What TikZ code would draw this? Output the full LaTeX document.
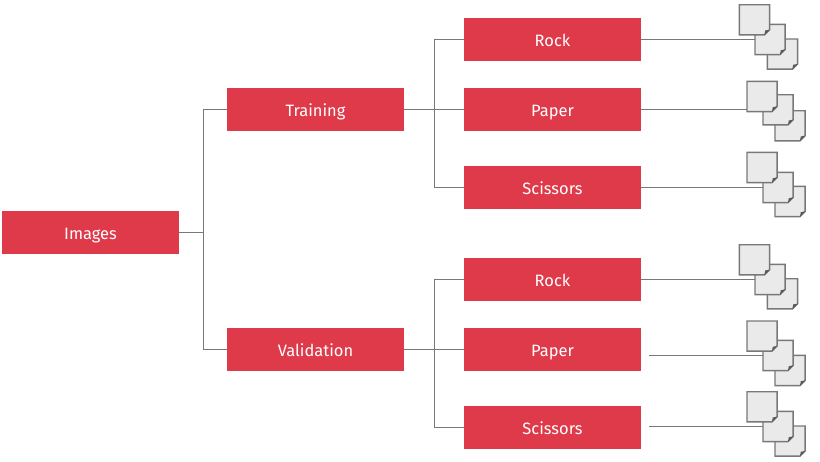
\documentclass[tikz,border=0pt]{standalone}
\usepackage{fontspec}
\setmainfont{Fira Sans}
\usetikzlibrary{calc}
\definecolor{boxred}{RGB}{223, 58, 74}
\definecolor{pagegray}{RGB}{234, 234, 234}
\definecolor{linegray}{RGB}{120, 120, 120}

\begin{document}
\begin{tikzpicture}[
  every node/.style={font=\fontsize{11.7pt}{14pt}\selectfont},
  redbox/.style={rectangle, fill=boxred, text=white, minimum width=4.425cm,
             minimum height=1.075cm, inner sep=0pt, text height=11.4pt, text depth=1.6pt},
  docpage/.style={rectangle, minimum size=0.74cm, inner sep=0pt},
  link/.style={draw=linegray, line width=0.9pt}
]
\useasboundingbox (0,0) rectangle (20.5,-11.55);

% Red boxes, three columns
\node[redbox] (images) at (2.2625,-5.8125) {Images};
\node[redbox] (training) at (7.8875,-2.7375) {Training};
\node[redbox] (validation) at (7.8875,-8.7375) {Validation};
\node[redbox] (rockT) at (13.8125,-0.9875) {Rock};
\node[redbox] (paperT) at (13.8125,-2.7375) {Paper};
\node[redbox] (scissorsT) at (13.8125,-4.6875) {Scissors};
\node[redbox] (rockV) at (13.8125,-6.9875) {Rock};
\node[redbox] (paperV) at (13.8125,-8.7375) {Paper};
\node[redbox] (scissorsV) at (13.8125,-10.6875) {Scissors};

% Branch points and the two lines that start away from their box
\coordinate (splitI) at (5.0875,-5.8125);
\coordinate (splitT) at (10.8625,-2.7375);
\coordinate (splitV) at (10.8625,-8.7375);
\coordinate (startP) at (16.225,-8.8875);
\coordinate (startS) at (16.225,-10.6625);

% Tree lines
\draw[link] (images.east) -- (splitI);
\draw[link] (training.west) -| (splitI) |- (validation.west);
\draw[link] (training.east) -- (paperT.west);
\draw[link] (validation.east) -- (paperV.west);
\foreach \kid in {rockT,scissorsT}{
  \draw[link] (splitT) |- (\kid.west);
}
\foreach \kid in {rockV,scissorsV}{
  \draw[link] (splitV) |- (\kid.west);
}

% Document stacks, back page first
\foreach \pg/\x/\y in {
  tA3/19.5625/-1.3525, tA2/19.2525/-0.9875, tA1/18.8625/-0.495,
  tB3/19.7525/-3.145, tB2/19.4525/-2.745, tB1/19.0525/-2.4125,
  tC3/19.7525/-5.0375, tC2/19.4525/-4.6875, tC1/19.0525/-4.1875,
  vA3/19.5625/-7.345, vA2/19.2525/-6.9875, vA1/18.8625/-6.495,
  vB3/19.7525/-9.2625, vB2/19.4525/-8.8875, vB1/19.0525/-8.4025,
  vC3/19.7525/-11.0275, vC2/19.4525/-10.6625, vC1/19.0525/-10.17}{
  \node[docpage] (\pg) at (\x,\y) {};
  \draw[linegray, line width=1pt, fill=pagegray] (\pg.south west) -- (\pg.north west)
    -- (\pg.north east) -- ([yshift=0.13cm]\pg.south east)
    -- ([xshift=-0.13cm]\pg.south east) -- cycle;
  \fill[black!65] ([yshift=0.13cm]\pg.south east) -- ([xshift=-0.13cm]\pg.south east)
    -- ([xshift=-0.11cm,yshift=0.11cm]\pg.south east) -- cycle;
}

% Lines to the stacks
\draw[link] (rockT.east) -- (tA2.west);
\draw[link] (paperT.east) -- (paperT.east -| tB1.west);
\draw[link] (scissorsT.east) -- (tC2.west);
\draw[link] (rockV.east) -- (vA2.west);
\draw[link] (startP) -- (vB2.west);
\draw[link] (startS) -- (vC2.west);

\end{tikzpicture}
\end{document}
